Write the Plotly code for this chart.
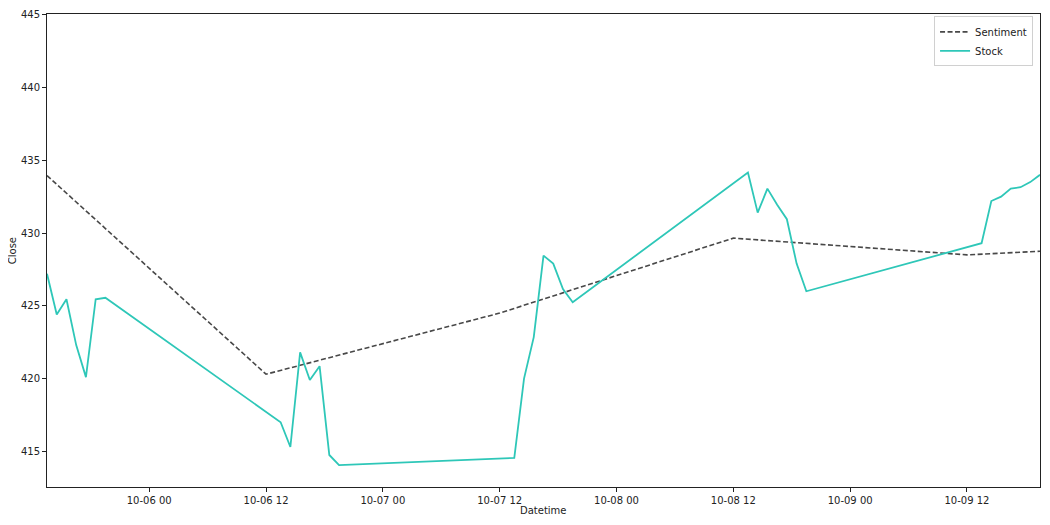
import pandas as pd
import plotly.graph_objects as go

# hourly closes (UTC), five trading days
days = ['2020-10-05', '2020-10-06', '2020-10-07', '2020-10-08', '2020-10-09']
hours = ['13:30', '14:30', '15:30', '16:30', '17:30', '18:30', '19:30']

stock_close = [
    427.2, 424.4, 425.45, 422.3, 420.1, 425.45, 425.55,
    417.0, 415.3, 421.8, 419.9, 420.85, 414.75, 414.05,
    414.55, 420.0, 422.85, 428.45, 427.9, 426.15, 425.25,
    434.15, 431.4, 433.05, 431.95, 430.95, 427.9, 426.0,
    429.3, 432.2, 432.5, 433.05, 433.15, 433.5, 434.0,
]

sentiment_time = ['2020-10-05 13:30', '2020-10-06 12:00', '2020-10-07 12:00',
                  '2020-10-08 12:00', '2020-10-09 12:00', '2020-10-09 19:30']
sentiment_close = [433.95, 420.3, 424.5, 429.65, 428.5, 428.75]

stock_time = pd.to_datetime([d + ' ' + h for d in days for h in hours])

tick_vals = pd.date_range('2020-10-06 00:00', '2020-10-09 12:00', freq='12h')
tick_text = [t.strftime('%m-%d %H') for t in tick_vals]

fig = go.Figure()

fig.add_trace(go.Scatter(
    x=pd.to_datetime(sentiment_time), y=sentiment_close, mode='lines', name='Sentiment',
    line=dict(color='#484848', width=1.6, dash='5px,2.5px'),
))
fig.add_trace(go.Scatter(
    x=stock_time, y=stock_close, mode='lines', name='Stock',
    line=dict(color='#2ec7b8', width=1.8),
))

font = dict(family='DejaVu Sans', size=10, color='#222')

axis_style = dict(
    showline=True, mirror=True, linecolor='#222', linewidth=1,
    ticks='outside', ticklen=4, tickcolor='#222', showgrid=False, zeroline=False,
    tickfont=font, automargin=False,
)

fig.update_xaxes(
    range=['2020-10-05 13:30', '2020-10-09 19:30'],
    tickvals=tick_vals, ticktext=tick_text,
    **axis_style,
)
fig.update_yaxes(
    range=[412.55, 445.05], tickvals=[415, 420, 425, 430, 435, 440, 445],
    **axis_style,
)

# axis titles as annotations so the margins stay fixed
fig.add_annotation(text='Datetime', x=0.5, y=-0.049, xref='paper', yref='paper',
                   xanchor='center', yanchor='middle', showarrow=False, font=font)
fig.add_annotation(text='Close', x=-0.0345, y=0.5, xref='paper', yref='paper',
                   xanchor='center', yanchor='middle', showarrow=False, font=font,
                   textangle=-90)

# page body has an 8px margin, so the figure is a bit smaller than the window
fig.update_layout(
    width=1042, height=517,
    margin=dict(l=39, r=10, t=6, b=38),
    plot_bgcolor='white', paper_bgcolor='white',
    font=font,
    legend=dict(
        x=0.993, y=0.995, xanchor='right', yanchor='top',
        bgcolor='white', bordercolor='#d0d0d0', borderwidth=1,
        font=font, tracegroupgap=0, itemwidth=30,
    ),
    showlegend=True,
)

fig.write_html('out.html')
